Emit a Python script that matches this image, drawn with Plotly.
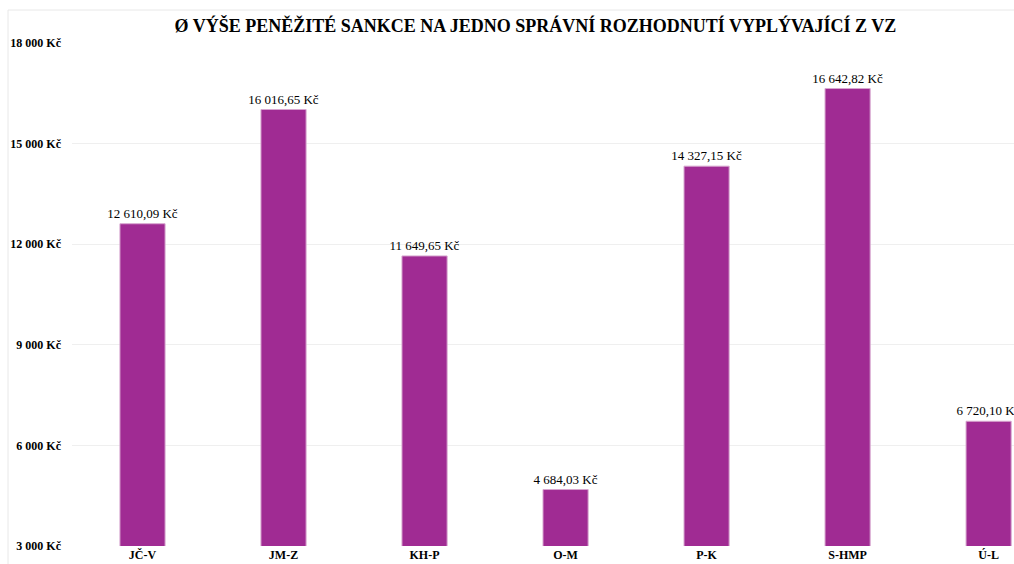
import plotly.graph_objects as go

categories = ["JČ-V", "JM-Z", "KH-P", "O-M", "P-K", "S-HMP", "Ú-L"]
values = [12610.09, 16016.65, 11649.65, 4684.03, 14327.15, 16642.82, 6720.10]
value_labels = ["12 610,09 Kč", "16 016,65 Kč", "11 649,65 Kč", "4 684,03 Kč",
                "14 327,15 Kč", "16 642,82 Kč", "6 720,10 Kč"]
tick_vals = [3000, 6000, 9000, 12000, 15000, 18000]
tick_text = ["3 000 Kč", "6 000 Kč", "9 000 Kč", "12 000 Kč", "15 000 Kč", "18 000 Kč"]
title = "Ø VÝŠE PENĚŽITÉ SANKCE NA JEDNO SPRÁVNÍ ROZHODNUTÍ VYPLÝVAJÍCÍ Z VZ"

serif = "Liberation Serif, Times New Roman, serif"

fig = go.Figure(go.Bar(
    x=categories, y=values,
    text=value_labels, textposition="outside", cliponaxis=True, constraintext="none",
    textfont=dict(family=serif, size=13, color="#000000"),
    marker=dict(color="#A02B93", line=dict(color="#D7A6CF", width=1)),
    width=0.32,
))

fig.update_layout(
    width=1014, height=564,
    margin=dict(l=72, r=0, t=43, b=18),
    paper_bgcolor="white", plot_bgcolor="white",
    showlegend=False,
    title=dict(text="<b>" + title + "</b>", x=0.528, xanchor="center", y=0.955, yanchor="middle",
               font=dict(family=serif, size=18, color="#000000")),
    xaxis=dict(range=[-0.5, 6.18], showgrid=False, zeroline=False, showline=False,
               ticks="", tickfont=dict(family=serif, size=12, color="#000000"),
               tickprefix="<b>", ticksuffix="</b>", fixedrange=True),
    yaxis=dict(range=[3000, 18000], tickvals=tick_vals, ticktext=["<b>" + t + "</b>" for t in tick_text],
               showgrid=True, gridcolor="#EFEFEF", gridwidth=1, zeroline=False, showline=False,
               ticks="", ticklabelstandoff=10,
               tickfont=dict(family=serif, size=12, color="#000000")),
    shapes=[
        dict(type="line", xref="paper", yref="paper", x0=-64/942, x1=1.0, y0=(546-10)/503, y1=(546-10)/503,
             line=dict(color="#E8E8E8", width=1)),
        dict(type="line", xref="paper", yref="paper", x0=-64/942, x1=-64/942, y0=(546-10)/503, y1=-0.05,
             line=dict(color="#E8E8E8", width=1)),
    ],
)

fig.write_html("out.html", config={"displayModeBar": False},
               post_script="document.body.style.margin='0';document.body.style.overflow='hidden';")
